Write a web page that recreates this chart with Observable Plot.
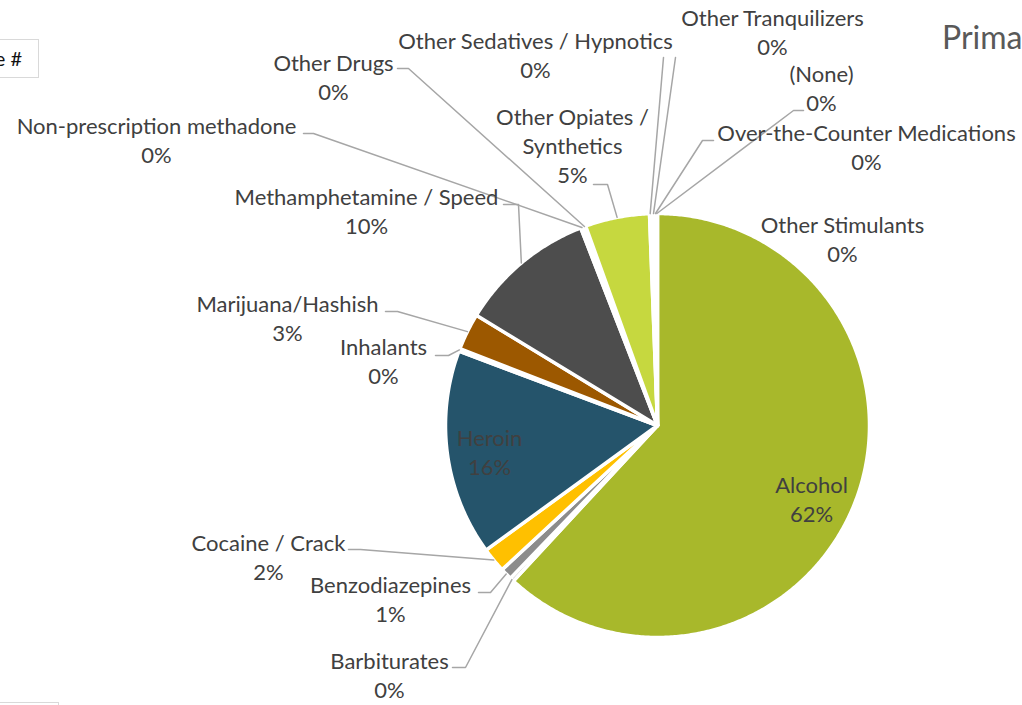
<!DOCTYPE html>
<html>
<head>
<meta charset="utf-8">
<script src="https://cdn.jsdelivr.net/npm/d3@7"></script>
<script src="https://cdn.jsdelivr.net/npm/@observablehq/plot@0.6"></script>
<style>
html, body { margin: 0; padding: 0; background: #fff; overflow: hidden; }
#wrap { position: relative; width: 1022px; height: 705px; overflow: hidden; font-family: Lato, "Open Sans", sans-serif; }
#wrap svg { position: absolute; left: 0; top: 0; }
.title { position: absolute; left: 942px; top: 18px; font-size: 32px; line-height: 1.2; color: #595959; white-space: nowrap; font-family: Lato, sans-serif; }
.field { position: absolute; left: -200px; top: 39px; width: 221px; height: 37px; border: 1.5px solid #d9d9d9; background: #fff;
  text-align: right; padding-right: 16px; font-size: 20px; line-height: 37px; color: #111; white-space: nowrap; }
.field2 { position: absolute; left: -20px; top: 702px; width: 77px; height: 30px; border: 1.5px solid #d9d9d9; background: #fff; }
</style>
</head>
<body>
<div id="wrap">
  <div class="title">Primary Substance</div>
  <div class="field">Count of Case #</div>
  <div class="field2"></div>
</div>
<script>
// ---- data ----
const categories = [
  "Alcohol", "Barbiturates", "Benzodiazepines", "Cocaine / Crack", "Heroin", "Inhalants",
  "Marijuana/Hashish", "Methamphetamine / Speed", "Non-prescription methadone", "Other Drugs",
  "Other Opiates / Synthetics", "Other Sedatives / Hypnotics", "Other Stimulants",
  "Other Tranquilizers", "Over-the-Counter Medications", "(None)"
];
const values = [61.9, 0.3, 0.9, 1.9, 15.7, 0.2, 2.8, 10.4, 0.2, 0.2, 4.9, 0.1, 0.1, 0.2, 0.1, 0.1];
const labelLines = [
  "Alcohol", "Barbiturates", "Benzodiazepines", "Cocaine / Crack", "Heroin", "Inhalants",
  "Marijuana/Hashish", "Methamphetamine / Speed", "Non-prescription methadone", "Other Drugs",
  "Other Opiates /\nSynthetics", "Other Sedatives / Hypnotics", "Other Stimulants",
  "Other Tranquilizers", "Over-the-Counter Medications", "(None)"
];

// ---- styles / layout ----
const palette = [
  "#A8B82B", "#7F7F7F", "#8C8C8C", "#FFC000", "#25546B", "#B7B7B7",
  "#9C5800", "#4D4D4D", "#6E6E6E", "#3E6E80", "#C6D83F", "#CCCCCC",
  "#E0A800", "#5A7F2A", "#999999", "#D8E07A"
];
const labelX = [811, 389, 390, 268, 489, 383, 287, 366, 156, 333, 572, 535, 842, 772, 866, 821];
const labelY = [497.5, 673.5, 597.5, 555.5, 451, 359.5, 316.5, 209.5, 138.5, 75.5, 144, 53.5, 237.5, 31, 146, 87];
const leaderElbows = [
  null, [[452,667],[465,667]], [[478,592],[490,592]], [[348,549],[360,549]], null,
  [[435,355],[448,355]], [[385,311],[397,311]], [[503,204],[518,204]], [[303,133],[313,133]],
  [[397,68],[408,68]], [[593,184],[607,184]], [[663,57],[663,57]], null,
  [[675,57],[675,57]], [[713,140],[702,140]], [[803,110],[793,110]]
];
const cx = 657, cy = 425, R = 212;
const fontSize = 22, lineGap = 29;

// ---- build geometry from values ----
const total = d3.sum(values);
const arcs = d3.pie().sort(null).value(d => d)(values);
const pt = (a, r) => [cx + r * Math.sin(a), cy - r * Math.cos(a)];

const slicePts = [];
arcs.forEach((a, i) => {
  const name = categories[i];
  slicePts.push({name, x: cx, y: cy});
  const n = Math.max(2, Math.ceil((a.endAngle - a.startAngle) / (Math.PI / 360)));
  for (let k = 0; k <= n; k++) {
    const ang = a.startAngle + (a.endAngle - a.startAngle) * k / n;
    const [x, y] = pt(ang, R);
    slicePts.push({name, x, y});
  }
  slicePts.push({name, x: cx, y: cy});
});

const leaderPts = [];
arcs.forEach((a, i) => {
  const el = leaderElbows[i];
  if (!el) return;
  const name = categories[i];
  el.forEach(([x, y]) => leaderPts.push({name, x, y}));
  const [x, y] = pt((a.startAngle + a.endAngle) / 2, R);
  leaderPts.push({name, x, y});
});

const labels = categories.map((name, i) => ({
  name,
  text: labelLines[i] + "\n" + Math.round(values[i] / total * 100) + "%",
  x: labelX[i], y: labelY[i]
}));

const chart = Plot.plot({
  width: 1022, height: 705,
  margin: 0,
  x: {domain: [0, 1022], range: [0, 1022], axis: null},
  y: {domain: [0, 705], range: [0, 705], axis: null},
  color: {domain: categories, range: palette},
  style: {fontFamily: "Lato, 'Open Sans', sans-serif", background: "transparent"},
  marks: [
    Plot.line(slicePts, {x: "x", y: "y", z: "name", fill: "name", stroke: "white", strokeWidth: 3.5, strokeLinejoin: "round", curve: "linear"}),
    Plot.line(leaderPts, {x: "x", y: "y", z: "name", stroke: "#A6A6A6", strokeWidth: 1.5, curve: "linear"}),
    Plot.text(labels, {x: "x", y: "y", text: "text", fontSize: fontSize, lineHeight: lineGap / fontSize, fill: "#404040", textAnchor: "middle"})
  ]
});
document.getElementById("wrap").prepend(chart);
</script>
</body>
</html>
